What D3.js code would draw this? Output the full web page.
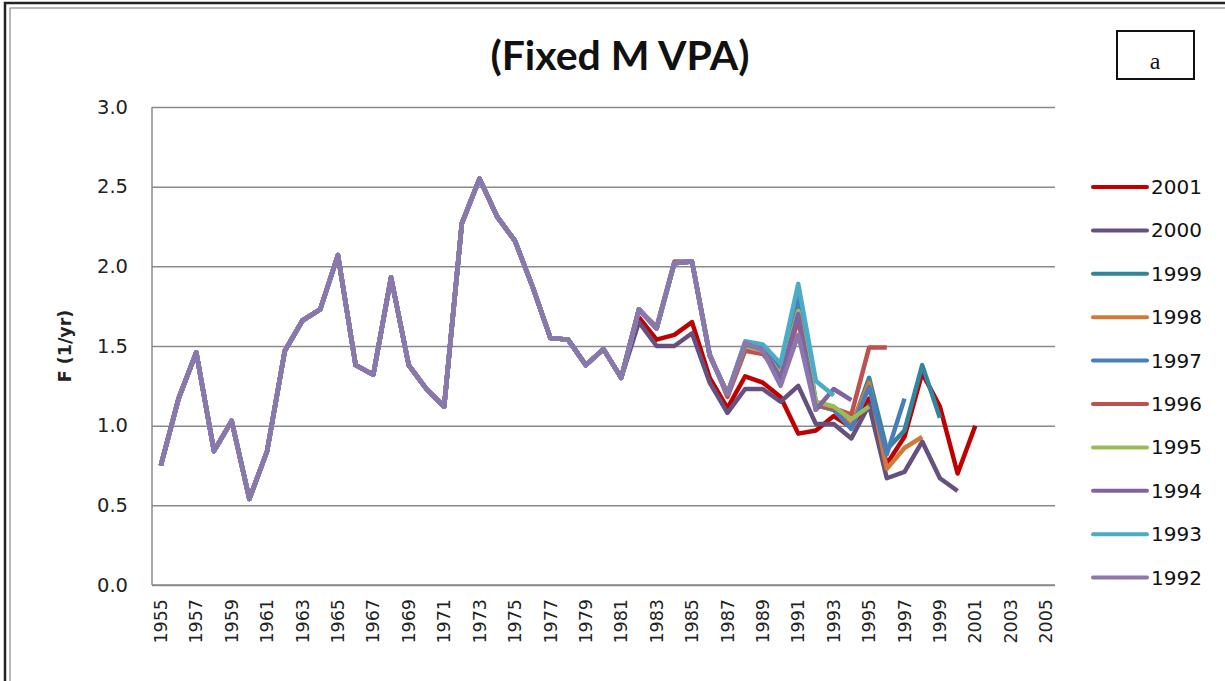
<!DOCTYPE html>
<html>
<head>
<meta charset="utf-8">
<script src="https://cdn.jsdelivr.net/npm/d3@7"></script>
<style>
  body { margin: 0; background: #fff; }
  svg { display: block; }
</style>
</head>
<body>
<div id="chart"></div>
<script>
// F by year, Fixed M VPA retrospective runs

// years shared by every run, 1955-1981
const commonYears = d3.range(1955, 1982)
const commonF = [0.75, 1.17, 1.46, 0.84, 1.03, 0.54, 0.84, 1.47, 1.66, 1.73,
  2.07, 1.38, 1.32, 1.93, 1.38, 1.23, 1.12, 2.27, 2.55, 2.31,
  2.16, 1.87, 1.55, 1.54, 1.38, 1.48, 1.30]

// each run from 1982 up to its terminal year
const f2001 = [1.68, 1.54, 1.57, 1.65, 1.30, 1.11, 1.31, 1.27, 1.18, 0.95, 0.97, 1.06, 0.99, 1.17, 0.76, 0.93, 1.33, 1.12, 0.70, 1.00]
const f2000 = [1.65, 1.50, 1.50, 1.58, 1.27, 1.08, 1.23, 1.23, 1.15, 1.25, 1.01, 1.01, 0.92, 1.13, 0.67, 0.71, 0.90, 0.67, 0.59]
const f1999 = [1.73, 1.61, 2.02, 2.03, 1.44, 1.20, 1.52, 1.50, 1.37, 1.86, 1.14, 1.11, 0.99, 1.30, 0.85, 0.97, 1.38, 1.05]
const f1998 = [1.73, 1.61, 2.02, 2.03, 1.44, 1.20, 1.50, 1.47, 1.34, 1.78, 1.13, 1.10, 1.00, 1.27, 0.73, 0.86, 0.93]
const f1997 = [1.73, 1.61, 2.02, 2.03, 1.44, 1.20, 1.50, 1.47, 1.34, 1.80, 1.13, 1.10, 0.98, 1.24, 0.82, 1.17]
const f1996 = [1.73, 1.62, 2.03, 2.03, 1.45, 1.18, 1.47, 1.45, 1.32, 1.66, 1.13, 1.11, 1.07, 1.49, 1.49]
const f1995 = [1.73, 1.61, 2.02, 2.03, 1.44, 1.20, 1.50, 1.47, 1.32, 1.72, 1.15, 1.12, 1.04, 1.12]
const f1994 = [1.73, 1.61, 2.02, 2.03, 1.44, 1.20, 1.51, 1.48, 1.30, 1.70, 1.10, 1.23, 1.16]
const f1993 = [1.73, 1.61, 2.02, 2.03, 1.44, 1.20, 1.53, 1.51, 1.39, 1.89, 1.28, 1.19]
const f1992 = [1.73, 1.61, 2.02, 2.03, 1.44, 1.20, 1.52, 1.47, 1.25, 1.57, 1.09]

const runNames = ['2001', '2000', '1999', '1998', '1997', '1996', '1995', '1994', '1993', '1992']
const runValues = [f2001, f2000, f1999, f1998, f1997, f1996, f1995, f1994, f1993, f1992]
const runColors = ['#c00000', '#65507f', '#31859c', '#d2793a', '#4a7ebb', '#c0504d', '#9bbb59', '#8064a2', '#4bacc6', '#8b76ae']

const xYears = d3.range(1955, 2006)
const yTicks = [0, 0.5, 1.0, 1.5, 2.0, 2.5, 3.0]

const width = 1225
const height = 681
const plot = { left: 152, right: 1055, top: 107, bottom: 585 }

const svg = d3.select('#chart')
  .append('svg')
  .attr('width', width)
  .attr('height', height)

// outer frame (double line, runs off the right and bottom)
svg.append('rect')
  .attr('x', 5).attr('y', 3)
  .attr('width', 1300).attr('height', 800)
  .attr('fill', 'none').attr('stroke', '#222').attr('stroke-width', 2.5)
svg.append('rect')
  .attr('x', 10).attr('y', 8)
  .attr('width', 1300).attr('height', 800)
  .attr('fill', 'none').attr('stroke', '#888').attr('stroke-width', 1.2)

const x = d3.scalePoint()
  .domain(xYears)
  .range([plot.left, plot.right])
  .padding(0.5)

const y = d3.scaleLinear()
  .domain([0, 3])
  .range([plot.bottom, plot.top])

// gridlines + y labels
const yAxis = d3.axisLeft(y)
  .tickValues(yTicks)
  .tickSize(-(plot.right - plot.left))
  .tickPadding(24)
  .tickFormat(d3.format('.1f'))

const gy = svg.append('g')
  .attr('transform', `translate(${plot.left},0)`)
  .call(yAxis)
gy.select('.domain').remove()
gy.selectAll('.tick line').attr('stroke', '#8a8a8a').attr('stroke-width', 1.5)
gy.selectAll('.tick text')
  .attr('font-family', 'DejaVu Sans, Verdana, sans-serif')
  .attr('font-size', 19.5)
  .attr('fill', '#222')

// axis lines
svg.append('line')
  .attr('x1', plot.left).attr('x2', plot.left)
  .attr('y1', plot.top).attr('y2', plot.bottom)
  .attr('stroke', '#8a8a8a').attr('stroke-width', 1.5)
svg.append('line')
  .attr('x1', plot.left).attr('x2', plot.right)
  .attr('y1', plot.bottom).attr('y2', plot.bottom)
  .attr('stroke', '#8a8a8a').attr('stroke-width', 1.5)

// x labels, every other year, rotated
svg.append('g').selectAll('text')
  .data(xYears.filter(d => (d - 1955) % 2 === 0))
  .enter().append('text')
  .attr('transform', d => `translate(${x(d)}, 599) rotate(-90)`)
  .attr('text-anchor', 'end')
  .attr('dy', '0.35em')
  .attr('font-family', 'DejaVu Sans, Verdana, sans-serif')
  .attr('font-size', 17.5)
  .attr('fill', '#222')
  .text(d => d)

// y title
svg.append('text')
  .attr('transform', `translate(71, ${(plot.top + plot.bottom) / 2}) rotate(-90)`)
  .attr('text-anchor', 'middle')
  .attr('font-family', 'DejaVu Sans, sans-serif')
  .attr('font-weight', 'bold')
  .attr('font-size', 17.5)
  .attr('fill', '#222')
  .text('F (1/yr)')

// title
svg.append('text')
  .attr('x', 620).attr('y', 70)
  .attr('text-anchor', 'middle')
  .attr('font-family', 'Lato, Open Sans, sans-serif')
  .attr('font-weight', 'bold')
  .attr('font-size', 41)
  .attr('fill', '#111')
  .text('(Fixed M VPA)')

// panel tag
svg.append('rect')
  .attr('x', 1117).attr('y', 31)
  .attr('width', 77).attr('height', 48)
  .attr('fill', '#fff').attr('stroke', '#111').attr('stroke-width', 2)
svg.append('text')
  .attr('x', 1155).attr('y', 69)
  .attr('text-anchor', 'middle')
  .attr('font-family', 'Liberation Serif, serif')
  .attr('font-size', 24)
  .attr('fill', '#111')
  .text('a')

// series: first run drawn first so 1992 ends up on top
const line = d3.line()
  .x(d => x(d.year))
  .y(d => y(d.f))

const series = runNames.map((name, i) => {
  const tail = runValues[i]
  const pts = commonYears.map((yr, j) => ({ year: yr, f: commonF[j] }))
  tail.forEach((v, j) => pts.push({ year: 1982 + j, f: v }))
  return { name, color: runColors[i], pts }
})

svg.append('g').selectAll('path')
  .data(series)
  .enter().append('path')
  .attr('d', d => line(d.pts))
  .attr('fill', 'none')
  .attr('stroke', d => d.color)
  .attr('stroke-width', 4.5)
  .attr('stroke-linejoin', 'round')

// legend
const legend = svg.append('g')
  .selectAll('g')
  .data(series)
  .enter().append('g')
  .attr('transform', (d, i) => `translate(1093, ${187 + i * 43.4})`)
legend.append('line')
  .attr('x1', 0).attr('x2', 54)
  .attr('stroke', d => d.color)
  .attr('stroke-width', 4)
  .attr('stroke-linecap', 'round')
legend.append('text')
  .attr('x', 58).attr('y', 7)
  .attr('font-family', 'DejaVu Sans, Verdana, sans-serif')
  .attr('font-size', 20)
  .attr('fill', '#111')
  .text(d => d.name)
</script>
</body>
</html>
